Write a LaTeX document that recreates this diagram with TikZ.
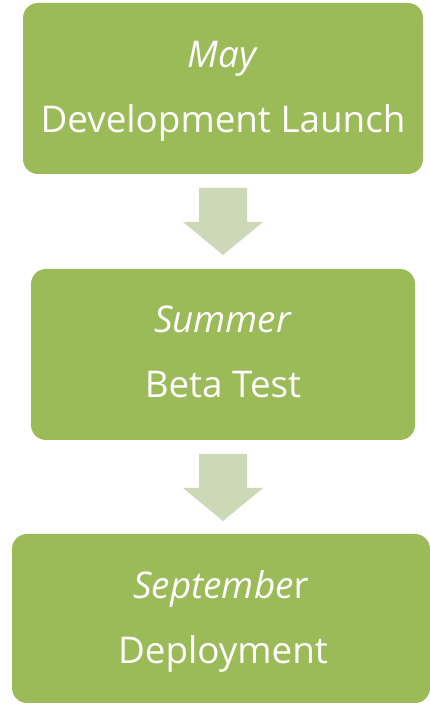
\documentclass[tikz,border=0pt]{standalone}
\usepackage{fontspec}
\setmainfont{Open Sans}
\definecolor{boxgreen}{HTML}{9BBB59}
\definecolor{arrowgreen}{HTML}{CDD9B6}
\tikzset{
  stagebox/.style={fill=boxgreen, draw=none, rounded corners=15pt},
  stagetext/.style={text=white, anchor=base, inner sep=0pt, font=\fontsize{36.8}{44}\selectfont},
  downarrow/.style={fill=arrowgreen, draw=none},
}
\begin{document}
\begin{tikzpicture}[x=1pt, y=1pt]
  \useasboundingbox (0,0) rectangle (430,704);

  % stage boxes
  \path[stagebox] (23,530) rectangle (423,701);
  \path[stagebox] (31,264) rectangle (415,435);
  \path[stagebox] (12,1) rectangle (430,170);
  \coordinate (b1) at (223,615.5);
  \coordinate (b2) at (223,349.5);
  \coordinate (b3) at (221,85.5);

  % labels
  \node[stagetext] (t1a) at (223,636) {\textit{May}};
  \node[stagetext] (t1b) at (223,571) {Development Launch};
  \node[stagetext] (t2a) at (223,371) {\textit{Summer}};
  \node[stagetext] (t2b) at (223,306) {Beta Test};
  \node[stagetext] (t3a) at (221,105) {\textit{Septembe}r};
  \node[stagetext] (t3b) at (223,40) {Deployment};

  % block arrows between stages
  \coordinate (a1) at (223,516);
  \coordinate (a2) at (223,250);
  \foreach \a in {a1,a2}{
    \path[downarrow, shift={(\a)}]
      (-24,0) -- (24,0) -- (24,-34) -- (40,-34) -- (0,-67) -- (-40,-34) -- (-24,-34) -- cycle;
  }
\end{tikzpicture}
\end{document}
